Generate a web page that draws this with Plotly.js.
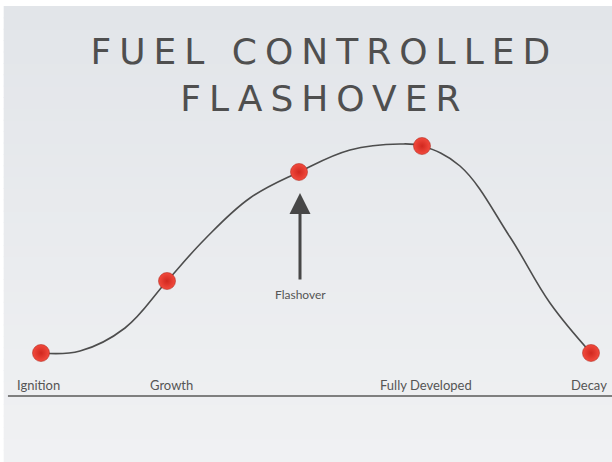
<!DOCTYPE html>
<html>
<head>
<meta charset="utf-8">
<script src="https://cdn.plot.ly/plotly-3.0.1.min.js"></script>
<style>
  html, body { margin:0; padding:0; background:#ffffff; }
  #chart { width:612px; height:462px; }
  .gtitle { letter-spacing: 8px; }
</style>
</head>
<body>
<div id="chart"></div>
<script>
// Stage markers (time, heat) in arbitrary diagram units
var stageNames = ["Ignition", "Growth", "Flashover", "Fully Developed", "Decay"];
var stageTime  = [41, 167, 299, 422, 591];
var stageHeat  = [43, 115, 224, 250, 43];

// Fire development curve
var curveTime = [41, 80, 125, 167, 205, 250, 299, 350, 400, 422, 460, 510, 550, 591];
var curveHeat = [43, 45, 68, 115, 157, 198, 224, 246, 252, 250, 230, 159, 93, 43];

// Stage labels along the baseline
var labelNames = ["Ignition", "Growth", "Fully Developed", "Decay"];
var labelTime  = [38, 171, 426, 589];
var labelHeat  = [11, 11, 11, 11];

// Flashover arrow: from tail to tip
var arrowTime = 300;
var arrowTail = 115;
var arrowTip  = 203;
var arrowLabelHeat = 102;

var labelFont = {family: "Lato, 'Open Sans', sans-serif", size: 13, color: "#555555"};

var annotations = labelNames.map(function (n, i) {
  return {x: labelTime[i], y: labelHeat[i], xref: "x", yref: "y", text: n,
          showarrow: false, font: labelFont, xanchor: "center", yanchor: "middle"};
});
annotations.push({
  x: arrowTime, y: arrowTip, ax: arrowTime, ay: arrowTail,
  xref: "x", yref: "y", axref: "x", ayref: "y",
  text: "", showarrow: true, arrowhead: 2, arrowsize: 1.4, arrowwidth: 3,
  arrowcolor: "#474747", standoff: 0, startstandoff: 0
});
annotations.push({
  x: arrowTime, y: arrowLabelHeat, xref: "x", yref: "y", text: "Flashover",
  showarrow: false, font: {family: "Lato, 'Open Sans', sans-serif", size: 12, color: "#555555"},
  xanchor: "center", yanchor: "middle"
});

// soft vertical background gradient made of thin bands
var shapes = [];
var nBands = 40;
for (var i = 0; i < nBands; i++) {
  var t = i / (nBands - 1);
  var r = Math.round(240 - t * 14), g = Math.round(241 - t * 12), b = Math.round(243 - t * 10);
  shapes.push({type: "rect", xref: "paper", yref: "paper", x0: 0.006, x1: 1,
               y0: 0.985 * i / nBands, y1: 0.985 * (i + 1) / nBands + 0.002,
               fillcolor: "rgb(" + r + "," + g + "," + b + ")", line: {width: 0}, layer: "below"});
}
shapes.push({type: "line", xref: "paper", yref: "y", x0: 0.013, x1: 1, y0: 0, y1: 0,
             line: {color: "#7f7f7f", width: 2}});

var traces = [
  {
    x: curveTime, y: curveHeat, type: "scatter", mode: "lines",
    line: {shape: "spline", smoothing: 1.1, color: "#4d4d4d", width: 1.6},
    hoverinfo: "skip", showlegend: false
  },
  {
    x: stageTime, y: stageHeat, text: stageNames, type: "scatter", mode: "markers",
    marker: {size: 17, color: "#f24a3d",
             gradient: {type: "radial", color: "#d1281f"},
             line: {width: 1, color: "rgba(175,40,30,0.55)"}},
    hoverinfo: "text", showlegend: false
  }
];

var layout = {
  width: 612, height: 462,
  margin: {l: 0, r: 0, t: 0, b: 0},
  paper_bgcolor: "#ffffff",
  plot_bgcolor: "rgba(0,0,0,0)",
  title: {
    text: "FUEL CONTROLLED<br>FLASHOVER",
    font: {family: "'DejaVu Sans', sans-serif", size: 36, color: "#4f4f4f"},
    x: 0.53, xanchor: "center", y: 0.862, yanchor: "top", yref: "container"
  },
  xaxis: {range: [0, 612], visible: false, fixedrange: true},
  yaxis: {range: [-66, 396], visible: false, fixedrange: true},
  shapes: shapes,
  annotations: annotations
};

Plotly.newPlot("chart", traces, layout, {displayModeBar: false, staticPlot: true});
</script>
</body>
</html>
